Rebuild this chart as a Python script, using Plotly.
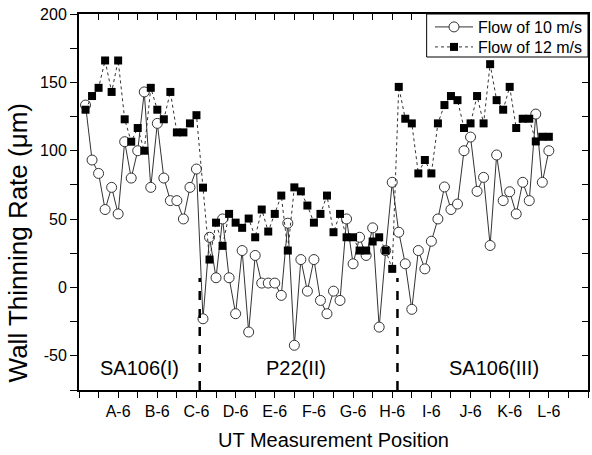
import plotly.graph_objects as go

# positions 1..72 (A-1 .. L-6)
positions = list(range(1, 73))

flow10 = [133.4, 93.2, 83.4, 57, 73.2, 53.8, 106.6, 80, 100, 143, 73.2, 120,
          80, 63.5, 63.5, 50.1, 73.2, 86.6, -22.9, 36.7, 7.1, 50.1, 7.1, -19.2,
          27, -32.6, 23.4, 3.2, 3.2, 3.2, -5.8, 47, -42.3, 20.4, -2.7, 20.4,
          -9.5, -19.2, -2.7, -9.5, 50.1, 17.3, 36.7, 23.4, 43.6, -29, 27, 76.9,
          40.4, 17.3, -16, 27, 13.6, 33.8, 50.1, 73.5, 57, 61, 100, 110,
          70.3, 80.5, 30.7, 96.9, 63.5, 70, 53.8, 76.9, 63.5, 126.8, 76.9, 100]

flow12 = [130, 140, 146, 166, 143, 166, 123, 106.6, 116.6, 100, 146, 130,
          123, 143, 113.4, 113.4, 120, 126, 73, 20.4, 47.4, 30.4, 53.8, 47.4,
          43.6, 50.4, 36.7, 57, 40.9, 53.8, 67.2, 27, 73.2, 70.3, 59.9, 47.4,
          53.8, 67.2, 40.4, 53.8, 36.7, 36.7, 27, 27, 33.6, 36.7, 27, 13.6,
          146.7, 123.4, 120, 83.4, 93.2, 83.4, 120, 133.4, 140, 137, 116.6, 120,
          140, 120, 163.3, 137, 130, 146.7, 116.6, 123.4, 123.4, 106.8, 110.2, 110.2]

tick_positions = list(range(0, 79, 3))
group_letters = ["A", "B", "C", "D", "E", "F", "G", "H", "I", "J", "K", "L"]
tick_labels = []
for t in tick_positions:
    if t % 6 == 0 and 6 <= t <= 72:
        tick_labels.append(group_letters[t // 6 - 1] + "-6")
    else:
        tick_labels.append("")

y_ticks_major = [-50, 0, 50, 100, 150, 200]
y_ticks_all = list(range(-75, 201, 25))

section_bounds = [18.5, 48.8]
section_bound_top = 7
section_names = ["SA106(I)", "P22(II)", "SA106(III)"]
section_label_x = [9.3, 33.3, 63.6]
section_label_y = -59

x_range = [0, 78]
y_range = [-75, 200]

FONT = "Liberation Sans, Arial, sans-serif"

fig = go.Figure()
fig.add_trace(go.Scatter(
    x=positions, y=flow10, mode="lines+markers", name="Flow of 10 m/s",
    legend="legend",
    line=dict(color="#333333", width=1),
    marker=dict(symbol="circle", size=10, color="white",
                line=dict(color="#333333", width=1))))
fig.add_trace(go.Scatter(
    x=positions, y=flow12, mode="lines+markers", name="Flow of 12 m/s",
    legend="legend2",
    line=dict(color="#333333", width=1, dash="dot"),
    marker=dict(symbol="square", size=8, color="black",
                line=dict(color="black", width=0))))
# invisible trace to host mirrored inward ticks
fig.add_trace(go.Scatter(x=[None], y=[None], xaxis="x2", yaxis="y2",
                         showlegend=False, hoverinfo="skip"))

for b in section_bounds:
    fig.add_shape(type="line", x0=b, x1=b, y0=y_range[0], y1=section_bound_top,
                  xref="x", yref="y", line=dict(color="black", width=2.5, dash="dash"))

# legend frame
fig.add_shape(type="rect", xref="paper", yref="paper", x0=0.683, x1=1, y0=0.8856, y1=1,
              line=dict(color="black", width=1), fillcolor="white", layer="above")

for name, xp in zip(section_names, section_label_x):
    fig.add_annotation(x=xp, y=section_label_y, text=name, showarrow=False,
                       font=dict(family=FONT, size=20, color="black"))

# y-axis title (placed as rotated text, as in the original, slightly below centre)
fig.add_annotation(xref="paper", yref="paper", x=-0.119, y=0.391,
                   xanchor="center", yanchor="middle", textangle=-90,
                   text="Wall Thinning Rate (\u03bcm)", showarrow=False,
                   font=dict(family=FONT, size=26, color="black"))

legend_common = dict(x=1, xanchor="right", yanchor="middle",
                     bgcolor="rgba(0,0,0,0)", borderwidth=0,
                     font=dict(size=16), itemwidth=38)

fig.update_layout(
    width=592, height=455,
    margin=dict(l=79, r=2, t=14, b=65),
    paper_bgcolor="white", plot_bgcolor="white",
    font=dict(family=FONT, size=16, color="black"),
    showlegend=True,
    legend=dict(y=0.9654, **legend_common),
    legend2=dict(y=0.9122, **legend_common),
    xaxis=dict(range=x_range, tickmode="array", tickvals=tick_positions,
               ticktext=tick_labels, ticks="outside", ticklen=6, tickwidth=1,
               tickcolor="black", showline=True, linecolor="black", linewidth=2,
               mirror=True, showgrid=False, zeroline=False,
               title=dict(text="UT Measurement Position", font=dict(size=20), standoff=14),
               tickfont=dict(size=16)),
    yaxis=dict(range=y_range, tickmode="array", tickvals=y_ticks_all,
               ticktext=[str(v) if v in y_ticks_major else "" for v in y_ticks_all],
               ticks="outside", ticklen=7, tickwidth=1, tickcolor="black",
               showline=True, linecolor="black", linewidth=2, mirror=True,
               showgrid=False, zeroline=False,
               tickfont=dict(size=16)),
    xaxis2=dict(range=x_range, overlaying="x", side="top", anchor="y",
                tickmode="array", tickvals=tick_positions, ticks="inside",
                ticklen=6, tickcolor="black", showticklabels=False,
                showgrid=False, zeroline=False, showline=False),
    yaxis2=dict(range=y_range, overlaying="y", side="right", anchor="x",
                tickmode="array", tickvals=y_ticks_all, ticks="inside",
                ticklen=6, tickcolor="black", showticklabels=False,
                showgrid=False, zeroline=False, showline=False),
)

fig.write_html("out.html")
